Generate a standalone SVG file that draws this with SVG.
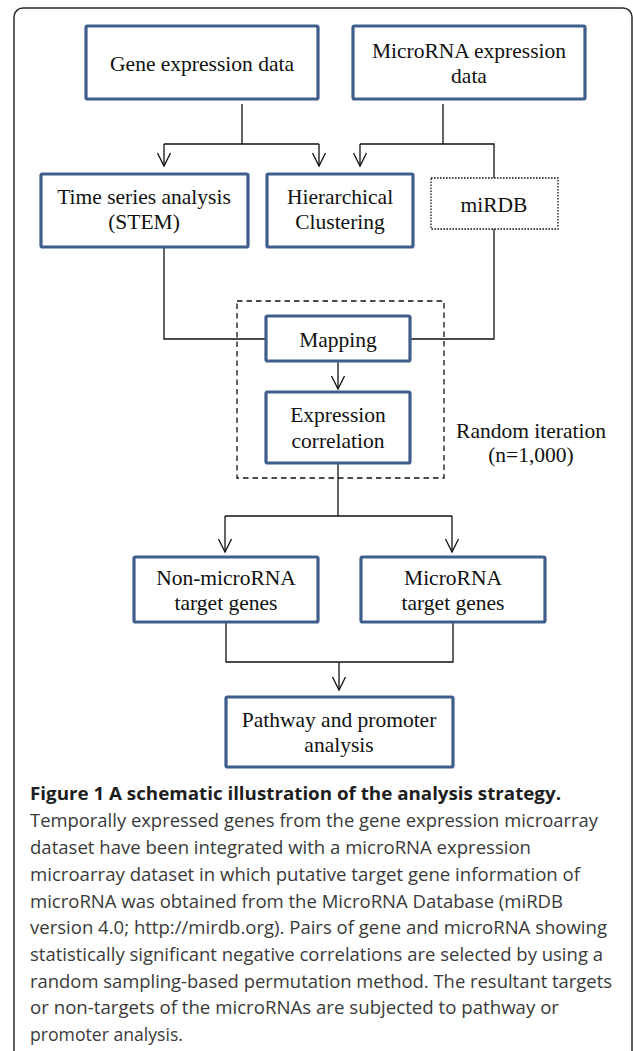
<svg xmlns="http://www.w3.org/2000/svg" width="633" height="1051" viewBox="0 0 633 1051">
<style>
.box{fill:#fff;stroke:#3f5e8c;stroke-width:3.2}
.dot{fill:#fff;stroke:#111;stroke-width:1.3;stroke-dasharray:1.6 1.4}
.dash{fill:none;stroke:#111;stroke-width:1.3;stroke-dasharray:5.5 4}
.t{font-family:"Liberation Serif","Times New Roman",serif;font-size:21.5px;fill:#111;text-anchor:middle}
.c{fill:none;stroke:#111;stroke-width:1.3}
.cap{font-family:"Open Sans","Noto Sans",sans-serif;font-size:18.5px;fill:#3a3a3a}
.capb{font-family:"Open Sans","Noto Sans",sans-serif;font-size:18.5px;font-weight:bold;fill:#1e1e1e}
</style>
<defs>
<marker id="ah" markerUnits="userSpaceOnUse" markerWidth="1" markerHeight="1" refX="0" refY="0" orient="auto" overflow="visible">
<path d="M-13,-6.5 L0,0 L-13,6.5" fill="none" stroke="#111" stroke-width="1.3"/>
</marker>
</defs>
<rect width="633" height="1051" fill="#fff"/>
<path d="M14,1051 V17 A9,9 0 0 1 23,8 H623 A9,9 0 0 1 632,17 V1051" fill="none" stroke="#2b2b2b" stroke-width="1.5"/>

<g id="connectors">
<path class="c" d="M242,104 V144 M164,144 H319 M443,104 V144 M360,144 H494 V178"/>
<path class="c" d="M164,144 V166" marker-end="url(#ah)"/>
<path class="c" d="M319,144 V166" marker-end="url(#ah)"/>
<path class="c" d="M360,144 V166" marker-end="url(#ah)"/>
<path class="c" d="M164,247 V339 H266 M494,229 V339 H410"/>
<path class="c" d="M338,361 V389" marker-end="url(#ah)"/>
<path class="c" d="M338,463 V516 M225,516 H452"/>
<path class="c" d="M225,516 V552" marker-end="url(#ah)"/>
<path class="c" d="M452,516 V552" marker-end="url(#ah)"/>
<path class="c" d="M226,622 V662 H453 V622"/>
<path class="c" d="M339,662 V690" marker-end="url(#ah)"/>
</g>

<g id="random-iteration">
<rect class="dash" x="237" y="301" width="207" height="177"/>
<text class="t" x="531" y="438">Random iteration</text>
<text class="t" x="531" y="462">(n=1,000)</text>
</g>

<g id="gene-expression">
<rect class="box" x="86" y="26" width="232" height="73" rx="1.5"/>
<text class="t" x="202" y="71">Gene expression data</text>
</g>
<g id="microrna-expression">
<rect class="box" x="353" y="26" width="232" height="73" rx="1.5"/>
<text class="t" x="469" y="58">MicroRNA expression</text>
<text class="t" x="469" y="83">data</text>
</g>
<g id="time-series">
<rect class="box" x="41" y="174" width="207" height="73" rx="1.5"/>
<text class="t" x="144" y="204">Time series analysis</text>
<text class="t" x="144" y="229">(STEM)</text>
</g>
<g id="hierarchical">
<rect class="box" x="267" y="174" width="146" height="73" rx="1.5"/>
<text class="t" x="340" y="204">Hierarchical</text>
<text class="t" x="340" y="229">Clustering</text>
</g>
<g id="mirdb">
<rect class="dot" x="431" y="178" width="127" height="51"/>
<text class="t" x="494" y="212">miRDB</text>
</g>
<g id="mapping">
<rect class="box" x="266" y="316" width="144" height="45" rx="1.5"/>
<text class="t" x="338" y="347">Mapping</text>
</g>
<g id="expression-correlation">
<rect class="box" x="266" y="392" width="144" height="71" rx="1.5"/>
<text class="t" x="338" y="422">Expression</text>
<text class="t" x="338" y="448">correlation</text>
</g>
<g id="non-microrna-targets">
<rect class="box" x="134" y="557" width="184" height="65" rx="1.5"/>
<text class="t" x="226" y="585">Non-microRNA</text>
<text class="t" x="226" y="610">target genes</text>
</g>
<g id="microrna-targets">
<rect class="box" x="361" y="557" width="184" height="65" rx="1.5"/>
<text class="t" x="453" y="585">MicroRNA</text>
<text class="t" x="453" y="610">target genes</text>
</g>
<g id="pathway">
<rect class="box" x="226" y="697" width="227" height="70" rx="1.5"/>
<text class="t" x="339" y="727">Pathway and promoter</text>
<text class="t" x="339" y="752">analysis</text>
</g>

<g id="caption">
<text class="capb" x="30" y="800" textLength="531" lengthAdjust="spacingAndGlyphs">Figure 1 A schematic illustration of the analysis strategy.</text>
<text class="cap" x="30" y="827" textLength="568" lengthAdjust="spacingAndGlyphs">Temporally expressed genes from the gene expression microarray</text>
<text class="cap" x="30" y="854" textLength="501" lengthAdjust="spacingAndGlyphs">dataset have been integrated with a microRNA expression</text>
<text class="cap" x="30" y="880.5" textLength="550" lengthAdjust="spacingAndGlyphs">microarray dataset in which putative target gene information of</text>
<text class="cap" x="30" y="907.5" textLength="533" lengthAdjust="spacingAndGlyphs">microRNA was obtained from the MicroRNA Database (miRDB</text>
<text class="cap" x="30" y="934" textLength="577" lengthAdjust="spacingAndGlyphs">version 4.0; http://mirdb.org). Pairs of gene and microRNA showing</text>
<text class="cap" x="30" y="961" textLength="573" lengthAdjust="spacingAndGlyphs">statistically significant negative correlations are selected by using a</text>
<text class="cap" x="30" y="987.5" textLength="582" lengthAdjust="spacingAndGlyphs">random sampling-based permutation method. The resultant targets</text>
<text class="cap" x="30" y="1014" textLength="529" lengthAdjust="spacingAndGlyphs">or non-targets of the microRNAs are subjected to pathway or</text>
<text class="cap" x="30" y="1041" textLength="153" lengthAdjust="spacingAndGlyphs">promoter analysis.</text>
</g>
</svg>
